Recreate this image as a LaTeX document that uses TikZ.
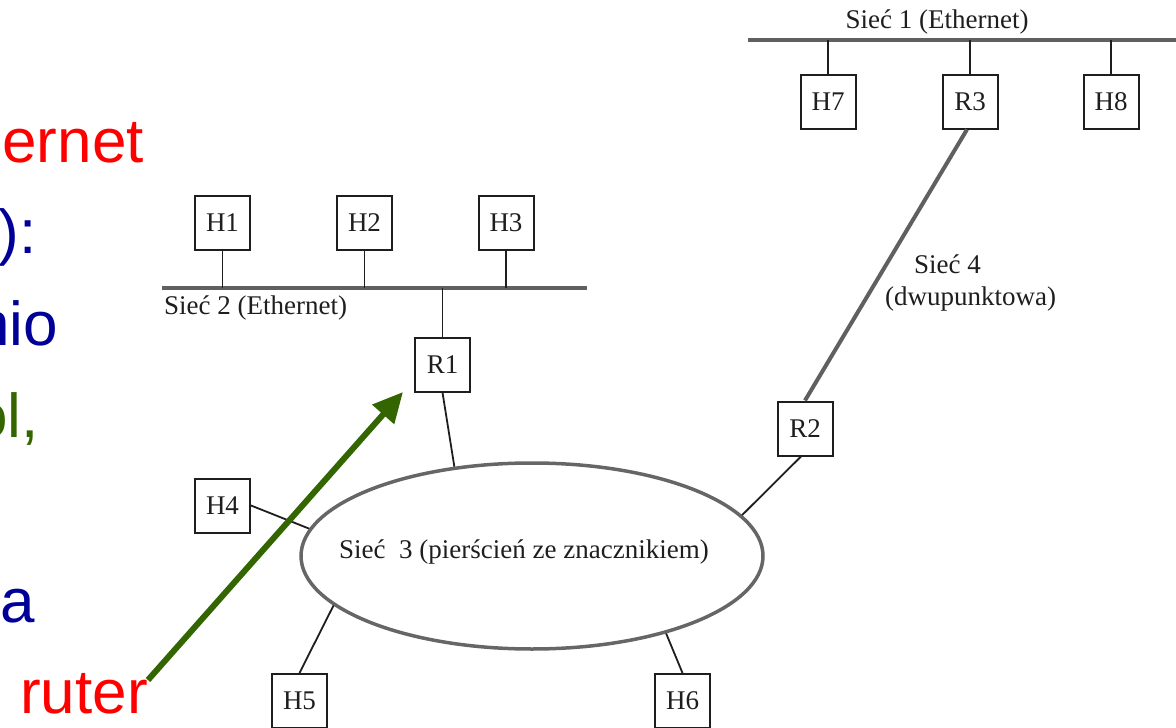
\documentclass[tikz,border=0pt]{standalone}
\usepackage{fontspec}
\setmainfont{Liberation Serif}
\newfontfamily\slidefont{Liberation Sans}
\usetikzlibrary{shapes.geometric,arrows.meta}
\definecolor{slidered}{HTML}{FF0000}
\definecolor{slideblue}{HTML}{000099}
\definecolor{slidegreen}{HTML}{336600}
\definecolor{busgray}{HTML}{606060}
\definecolor{ringgray}{HTML}{666666}
\definecolor{inkgray}{HTML}{1E1E1E}
\begin{document}
\begin{tikzpicture}[x=1pt,y=-1pt,
  host/.style={draw=inkgray, line width=2pt, minimum width=55pt, minimum height=54pt,
    inner sep=0pt, fill=white, text=inkgray, font=\fontsize{27}{30}\selectfont},
  bus/.style={draw=busgray, line width=4pt},
  link/.style={draw=inkgray, line width=1.8pt},
  netlabel/.style={text=inkgray, font=\fontsize{27}{30}\selectfont, inner sep=0pt},
  slide/.style={font=\slidefont\fontsize{62}{70}\selectfont, inner sep=0pt, anchor=base east},
]
\useasboundingbox (0,0) rectangle (1176,728);
\clip (0,0) rectangle (1176,728);

% slide text running off the left edge
\node[slide, text=slidered]   (t1) at (144,162) {ernet};
\node[slide, text=slideblue]  (t2) at (37,253)  {):};
\node[slide, text=slideblue]  (t3) at (58,345)  {nio};
\node[slide, text=slidegreen] (t4) at (39,437)  {ol,};
\node[slide, text=slideblue]  (t5) at (35,622)  {a};
\node[slide, text=slidered]   (ruter) at (148,713) {ruter};

% Network 1 (Ethernet)
\coordinate (s1w) at (748,40);
\coordinate (s1e) at (1176,40);
\draw[bus] (s1w) -- (s1e);
\node[netlabel, anchor=base] (s1lab) at (937,28) {Sieć 1 (Ethernet)};
\node[host] (H7) at (828,101.5) {H7};
\node[host] (R3) at (970,101.5) {R3};
\node[host] (H8) at (1111,101.5) {H8};
\foreach \n in {H7,R3,H8} \draw[link] (\n.north) -- (\n.north |- s1w);

% Network 2 (Ethernet)
\coordinate (s2w) at (162,288);
\coordinate (s2e) at (587,288);
\draw[bus] (s2w) -- (s2e);
\node[netlabel, anchor=base west] (s2lab) at (164,314) {Sieć 2 (Ethernet)};
\node[host] (H1) at (222.5,223) {H1};
\node[host] (H2) at (364.5,223) {H2};
\node[host] (H3) at (506,223) {H3};
\foreach \n in {H1,H2,H3} \draw[link] (\n.south) -- (\n.south |- s2w);
\node[host] (R1) at (442.5,364.5) {R1};
\draw[link] (R1.north) -- (R1.north |- s2w);

% Network 3 (token ring)
\node[ellipse, draw=ringgray, line width=3.5pt, minimum width=462pt,
  minimum height=186pt, inner sep=0pt] (ring) at (532,556) {};
\node[netlabel, anchor=base west] (ringlab) at (339,558) {Sieć\ \ 3 (pierścień ze znacznikiem)};
\node[host] (H4) at (222.5,505.5) {H4};
\node[host] (H5) at (299.5,701) {H5};
\node[host] (H6) at (682.5,701) {H6};
\node[host] (R2) at (805,428.5) {R2};
\draw[link] (R1.south) -- (ring.131);
\draw[link] (H4.east) -- (ring.173);
\draw[link] (H5.north) -- (ring.194);
\draw[link] (H6.north) -- (ring.330);
\draw[link] ([xshift=-4pt]R2.south) -- (ring.11.6);

% Network 4 (point-to-point)
\draw[bus] (R2.north) -- ([xshift=-3pt]R3.south);
\node[netlabel, anchor=base west] (s4lab) at (914,273) {Sieć 4};
\node[netlabel, anchor=base west] (s4sub) at (885,305) {(dwupunktowa)};

% pointer from the word "ruter" towards R1
\coordinate (arrowfoot) at (148,680);
\coordinate (arrowtip) at (403,392);
\draw[slidegreen, line width=6pt, -{Triangle[length=30pt,width=28pt]}] (arrowfoot) -- (arrowtip);
\end{tikzpicture}
\end{document}
